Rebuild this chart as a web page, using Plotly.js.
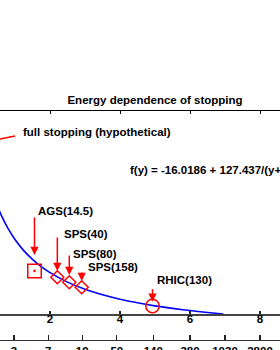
<!DOCTYPE html>
<html>
<head>
<meta charset="utf-8">
<script src="https://cdn.plot.ly/plotly-3.0.1.min.js"></script>
<style>html,body{margin:0;padding:0;background:#fff;overflow:hidden}#chart{width:280px;height:350px}</style>
</head>
<body>
<div id="chart"></div>
<script>
// ---- data ----
// fitted curve f(y)
const curveX = [0.4, 0.6, 0.8, 1.0, 1.25, 1.5, 1.75, 2.0, 2.5, 3.0, 3.5, 4.0, 4.5, 5.0, 5.5, 6.0, 6.5, 6.95];
const curveY = [75.0, 63.6, 54.8, 47.7, 40.6, 35.0, 30.3, 26.5, 20.4, 15.8, 12.3, 9.5, 7.2, 5.2, 3.6, 2.2, 1.0, 0.0];

// hypothetical full stopping (pointer segment visible at left edge)
const fullStopX = [0.5, 1.0];
const fullStopY = [111.8, 114.0];

// measured points
const agsX = [1.557];   const agsY = [27.6];
const spsX = [2.209, 2.551, 2.906]; const spsY = [23.5, 20.3, 17.1];
const rhicX = [4.929];  const rhicY = [5.1];

// labels
const labelText = ['AGS(14.5)', 'SPS(40)', 'SPS(80)', 'SPS(158)', 'RHIC(130)'];
const labelX = [1.60, 2.351, 2.60, 3.02, 5.00];
const labelY = [66.0, 51.2, 38.5, 29.8, 21.8];
const arrowX = [1.557, 2.209, 2.551, 2.906, 4.929];
const arrowTipY = [37.8, 27.5, 25.0, 21.1, 7.9];
const arrowLen = [39, 35, 21, 10, 14];

// axes
const rapTicks = [2, 4, 6, 8];
const rapLabels = ['2', '4', '6', '8'];
const energyTicks = [0.97, 1.95, 2.92, 3.91, 4.95, 6.0, 7.0, 8.0];
const energyLabels = ['3', '7', '19', '50', '140', '380', '1030', '2800'];

const xRange = [0.5714, 8.5714];
const yRange = [0, 130];

// ---- plot ----
const FONT = 'Liberation Sans, Arial, Helvetica, sans-serif';
const red = '#ff0000';

const traces = [
  {x: curveX, y: curveY, mode: 'lines', line: {color: '#0000ff', width: 1.6, shape: 'spline'}, hoverinfo: 'skip'},
  {x: fullStopX, y: fullStopY, mode: 'lines', line: {color: red, width: 1.5}, hoverinfo: 'skip'},
  {x: agsX, y: agsY, mode: 'markers', marker: {symbol: 'square-open-dot', size: 13.5, color: red, line: {color: red, width: 1.5}}},
  {x: spsX, y: spsY, mode: 'markers', marker: {symbol: 'diamond-open', size: 10, color: red, line: {color: red, width: 1.5}}},
  {x: rhicX, y: rhicY, mode: 'markers', marker: {symbol: 'circle-open', size: 13.5, color: red, line: {color: red, width: 1.5}}},
  {x: [], y: [], xaxis: 'x2', yaxis: 'y', showlegend: false},
  {x: [], y: [], xaxis: 'x3', yaxis: 'y', showlegend: false}
];

const annotations = [];
labelText.forEach((t, i) => {
  annotations.push({x: labelX[i], y: labelY[i], xref: 'x', yref: 'y', text: t, showarrow: false,
    xanchor: 'left', yanchor: 'middle', font: {family: FONT, size: 11.5, color: '#000', weight: 'bold'}});
  annotations.push({x: arrowX[i], y: arrowTipY[i], xref: 'x', yref: 'y', text: '', showarrow: true,
    ax: 0, ay: -arrowLen[i], arrowhead: 2, arrowsize: 1.1, arrowwidth: 1.5, arrowcolor: red, standoff: 0});
});
annotations.push({x: 1.17, y: 116.6, xref: 'x', yref: 'y', text: 'full stopping (hypothetical)', showarrow: false,
  xanchor: 'left', yanchor: 'middle', font: {family: FONT, size: 11.5, color: '#000', weight: 'bold'}});
annotations.push({x: 4.22, y: 92.2, xref: 'x', yref: 'y', text: 'f(y) = -16.0186 + 127.437/(y+1)', showarrow: false,
  xanchor: 'left', yanchor: 'middle', font: {family: FONT, size: 11.5, color: '#000', weight: 'bold'}});

const layout = {
  width: 280, height: 350,
  margin: {l: 0, r: 0, t: 111, b: 10, pad: 0},
  paper_bgcolor: '#fff', plot_bgcolor: '#fff',
  showlegend: false,
  title: {text: 'Energy dependence of stopping', x: 155/280, xanchor: 'center', xref: 'paper',
    y: (350 - 100) / 350, yanchor: 'middle', yref: 'container',
    font: {family: FONT, size: 11.5, color: '#000', weight: 'bold'}},
  xaxis: {range: xRange, anchor: 'y', showline: true, linecolor: '#444', linewidth: 2,
    ticks: 'inside', ticklen: 3, tickwidth: 1.2, tickcolor: '#222', tickvals: rapTicks, ticktext: rapLabels,
    ticklabelstandoff: -7,
    showgrid: false, zeroline: false, tickfont: {family: FONT, size: 11.5, color: '#000', weight: 'bold'}},
  xaxis2: {range: xRange, overlaying: 'x', anchor: 'free', position: 0, side: 'bottom', showline: true,
    linecolor: '#333', linewidth: 1.3, ticks: 'inside', ticklen: 5, tickwidth: 1.2, tickcolor: '#222',
    tickvals: energyTicks, ticktext: energyLabels, showgrid: false, zeroline: false,
    tickfont: {family: FONT, size: 11.5, color: '#000', weight: 'bold'}},
  xaxis3: {range: xRange, overlaying: 'x', anchor: 'y', side: 'top', showline: true, linecolor: '#000', linewidth: 1,
    ticks: 'inside', ticklen: 3, tickwidth: 1, tickcolor: '#000', tickvals: rapTicks, showticklabels: false,
    showgrid: false, zeroline: false},
  yaxis: {range: yRange, domain: [26 / 229, 1], showline: false, showgrid: false, zeroline: false,
    showticklabels: false, ticks: ''},
  annotations: annotations
};

Plotly.newPlot('chart', traces, layout, {staticPlot: true, displayModeBar: false});
</script>
</body>
</html>
